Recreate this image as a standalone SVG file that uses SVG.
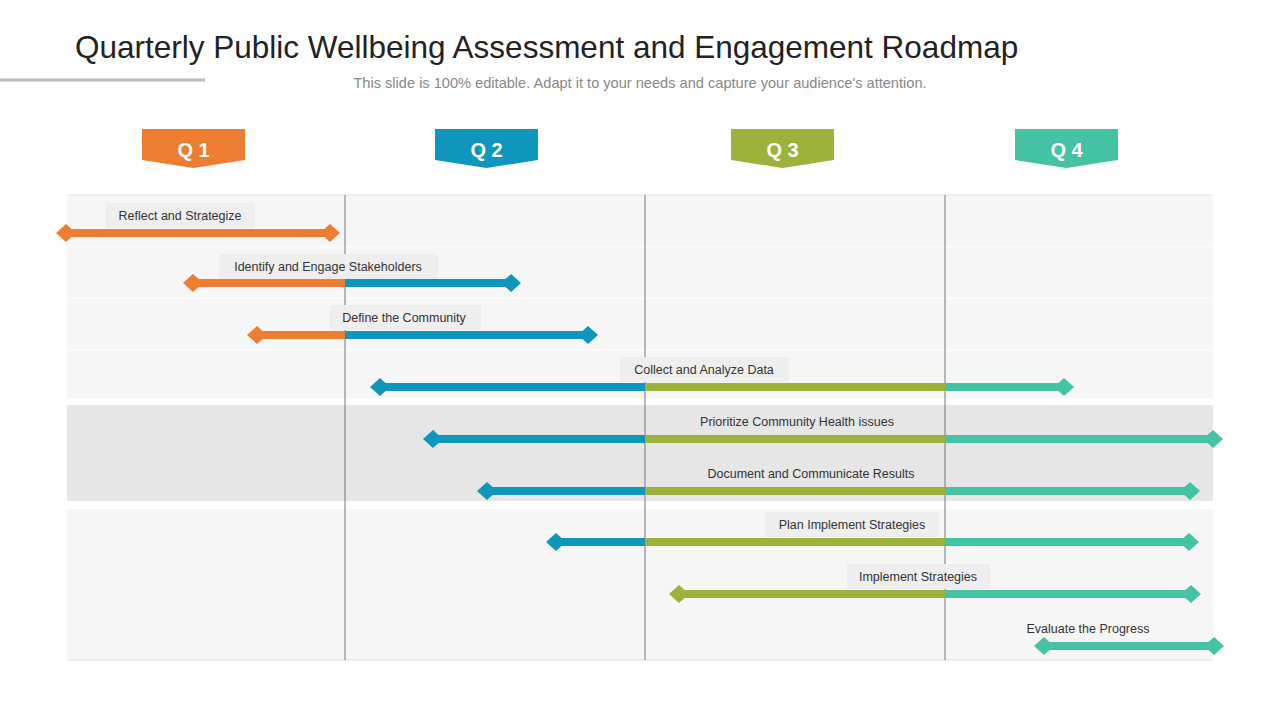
<svg xmlns="http://www.w3.org/2000/svg" width="1280" height="720" viewBox="0 0 1280 720">
<style>
.t{font-family:"Liberation Sans",Arial,sans-serif}
.lab{font-family:"Liberation Sans",Arial,sans-serif;font-size:12.5px;fill:#333;text-anchor:middle}
.lb{fill:#eeeeee}
.q{font-family:"Liberation Sans",Arial,sans-serif;font-size:20px;font-weight:bold;fill:#fff;text-anchor:middle}
.o{stroke:#ed7d31}.b{stroke:#0e96bd}.g{stroke:#9cb23a}.c{stroke:#43c3a4}
line.bar{stroke-width:8}
.vl{stroke:#777;stroke-width:1}
</style>
<defs>
<path id="d" d="M-10 0 L0 -9 L10 0 L0 9 Z"/>
</defs>
<rect width="1280" height="720" fill="#fff"/>
<text class="t" x="75" y="58" font-size="31.5" fill="#222">Quarterly Public Wellbeing Assessment and Engagement Roadmap</text>
<line x1="0" y1="80" x2="205" y2="80" stroke="#bbb" stroke-width="3"/>
<text class="t" x="640" y="88" font-size="14.6" fill="#888" text-anchor="middle">This slide is 100% editable. Adapt it to your needs and capture your audience's attention.</text>
<g id="quarters">
<g id="q1"><path d="M142 129H245V160L193.5 168L142 160Z" fill="#ed7d31"/><text class="q" x="193.5" y="157">Q 1</text></g>
<g id="q2"><path d="M435 129H538V160L486.5 168L435 160Z" fill="#0e96bd"/><text class="q" x="486.5" y="157">Q 2</text></g>
<g id="q3"><path d="M731 129H834V160L782.5 168L731 160Z" fill="#9cb23a"/><text class="q" x="782.5" y="157">Q 3</text></g>
<g id="q4"><path d="M1015 129H1118V160L1066.5 168L1015 160Z" fill="#43c3a4"/><text class="q" x="1066.5" y="157">Q 4</text></g>
</g>
<g id="bands">
<rect x="67" y="195" width="1146" height="203" fill="#f6f6f6"/>
<rect x="67" y="405" width="1146" height="96" fill="#e6e6e6"/>
<rect x="67" y="509" width="1146" height="151" fill="#f6f6f6"/>
<line x1="67" y1="195" x2="1213" y2="195" stroke="#e0e0e0"/>
<line x1="67" y1="247" x2="1213" y2="247" stroke="#fff"/>
<line x1="67" y1="298" x2="1213" y2="298" stroke="#fff"/>
<line x1="67" y1="350" x2="1213" y2="350" stroke="#fff"/>
<line x1="67" y1="660" x2="1213" y2="660" stroke="#e0e0e0"/>
<line class="vl" x1="345" y1="195" x2="345" y2="660"/>
<line class="vl" x1="645" y1="195" x2="645" y2="660"/>
<line class="vl" x1="945" y1="195" x2="945" y2="660"/>
</g>
<g id="connectors">
<line class="bar o" x1="66" y1="233" x2="330" y2="233"/>
<use href="#d" x="66" y="233" fill="#ed7d31"/><use href="#d" x="330" y="233" fill="#ed7d31"/>

<line class="bar o" x1="193" y1="283" x2="345" y2="283"/><line class="bar b" x1="345" y1="283" x2="511" y2="283"/>
<use href="#d" x="193" y="283" fill="#ed7d31"/><use href="#d" x="511" y="283" fill="#0e96bd"/>

<line class="bar o" x1="257" y1="335" x2="345" y2="335"/><line class="bar b" x1="345" y1="335" x2="588" y2="335"/>
<use href="#d" x="257" y="335" fill="#ed7d31"/><use href="#d" x="588" y="335" fill="#0e96bd"/>

<line class="bar b" x1="380" y1="387" x2="645" y2="387"/><line class="bar g" x1="645" y1="387" x2="945" y2="387"/><line class="bar c" x1="945" y1="387" x2="1064" y2="387"/>
<use href="#d" x="380" y="387" fill="#0e96bd"/><use href="#d" x="1064" y="387" fill="#43c3a4"/>

<line class="bar b" x1="433" y1="439" x2="645" y2="439"/><line class="bar g" x1="645" y1="439" x2="945" y2="439"/><line class="bar c" x1="945" y1="439" x2="1213" y2="439"/>
<use href="#d" x="433" y="439" fill="#0e96bd"/><use href="#d" x="1213" y="439" fill="#43c3a4"/>

<line class="bar b" x1="487" y1="491" x2="645" y2="491"/><line class="bar g" x1="645" y1="491" x2="945" y2="491"/><line class="bar c" x1="945" y1="491" x2="1190" y2="491"/>
<use href="#d" x="487" y="491" fill="#0e96bd"/><use href="#d" x="1190" y="491" fill="#43c3a4"/>

<line class="bar b" x1="556" y1="542" x2="645" y2="542"/><line class="bar g" x1="645" y1="542" x2="945" y2="542"/><line class="bar c" x1="945" y1="542" x2="1189" y2="542"/>
<use href="#d" x="556" y="542" fill="#0e96bd"/><use href="#d" x="1189" y="542" fill="#43c3a4"/>

<line class="bar g" x1="679" y1="594" x2="945" y2="594"/><line class="bar c" x1="945" y1="594" x2="1191" y2="594"/>
<use href="#d" x="679" y="594" fill="#9cb23a"/><use href="#d" x="1191" y="594" fill="#43c3a4"/>

<line class="bar c" x1="1044" y1="646" x2="1214" y2="646"/>
<use href="#d" x="1044" y="646" fill="#43c3a4"/><use href="#d" x="1214" y="646" fill="#43c3a4"/>
</g>
<g id="labels">
<g id="n1"><rect class="lb" x="106" y="203" width="149" height="25"/><text class="lab" x="180" y="219.5">Reflect and Strategize</text></g>
<g id="n2"><rect class="lb" x="219" y="254" width="219" height="25"/><text class="lab" x="328" y="270.5">Identify and Engage Stakeholders</text></g>
<g id="n3"><rect class="lb" x="330" y="305" width="151" height="25"/><text class="lab" x="404" y="321.5">Define the Community</text></g>
<g id="n4"><rect class="lb" x="620" y="357" width="169" height="25"/><text class="lab" x="704" y="373.5">Collect and Analyze Data</text></g>
<g id="n5"><text class="lab" x="797" y="425.5">Prioritize Community Health issues</text></g>
<g id="n6"><text class="lab" x="811" y="477.5">Document and Communicate Results</text></g>
<g id="n7"><rect class="lb" x="765" y="512" width="174" height="25"/><text class="lab" x="852" y="528.5">Plan Implement Strategies</text></g>
<g id="n8"><rect class="lb" x="847" y="564" width="143" height="25"/><text class="lab" x="918" y="580.5">Implement Strategies</text></g>
<g id="n9"><text class="lab" x="1088" y="632.5">Evaluate the Progress</text></g>
</g>
</svg>
